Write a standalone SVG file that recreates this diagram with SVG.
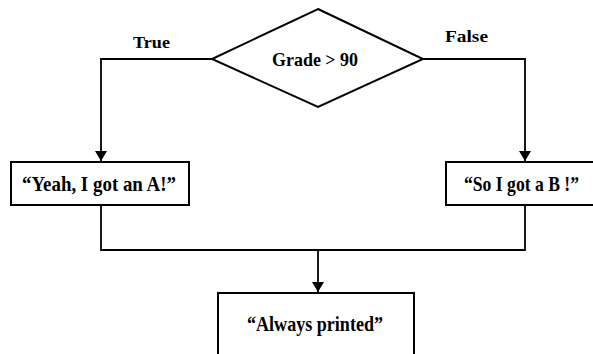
<svg xmlns="http://www.w3.org/2000/svg" width="593" height="354" viewBox="0 0 593 354">
  <defs>
    <marker id="arrow" markerWidth="12" markerHeight="14" refX="10" refY="6" orient="auto" markerUnits="userSpaceOnUse">
      <path d="M0,0 L10,6 L0,12 Z" fill="#000"/>
    </marker>
    <style>
      .shape { fill: #fff; stroke: #000; stroke-width: 2; }
      .line { fill: none; stroke: #000; stroke-width: 1.8; }
      .label { font-family: "Liberation Serif", "Times New Roman", serif; font-weight: bold; fill: #000; }
      .branch { font-size: 17px; }
      .cond { font-size: 19px; }
      .msg { font-size: 22px; }
    </style>
  </defs>
  <rect width="593" height="354" fill="#fff"/>

  <g id="connectors">
    <polyline class="line" points="212,59 101,59 101,161" marker-end="url(#arrow)"/>
    <polyline class="line" points="423,59 525,59 525,161" marker-end="url(#arrow)"/>
    <polyline class="line" points="101,205 101,250 525,250 525,205"/>
    <line class="line" x1="318" y1="250" x2="318" y2="292" marker-end="url(#arrow)"/>
    <text class="label branch" x="133" y="48" textLength="37" lengthAdjust="spacingAndGlyphs">True</text>
    <text class="label branch" x="445" y="42" textLength="43" lengthAdjust="spacingAndGlyphs">False</text>
  </g>

  <g id="decision">
    <polygon class="shape" points="318,9 423,59 318,107 212,59"/>
    <text class="label cond" x="272" y="66" textLength="86" lengthAdjust="spacingAndGlyphs">Grade &gt; 90</text>
  </g>

  <g id="true-branch">
    <rect class="shape" x="11" y="162" width="178" height="43"/>
    <text class="label msg" x="22" y="191" textLength="154" lengthAdjust="spacingAndGlyphs">“Yeah, I got an A!”</text>
  </g>

  <g id="false-branch">
    <rect class="shape" x="446" y="162" width="160" height="43"/>
    <text class="label msg" x="464" y="191" textLength="115" lengthAdjust="spacingAndGlyphs">“So I got a B !”</text>
  </g>

  <g id="always">
    <rect class="shape" x="218" y="293" width="196" height="70"/>
    <text class="label msg" x="247" y="331" textLength="136" lengthAdjust="spacingAndGlyphs">“Always printed”</text>
  </g>
</svg>
